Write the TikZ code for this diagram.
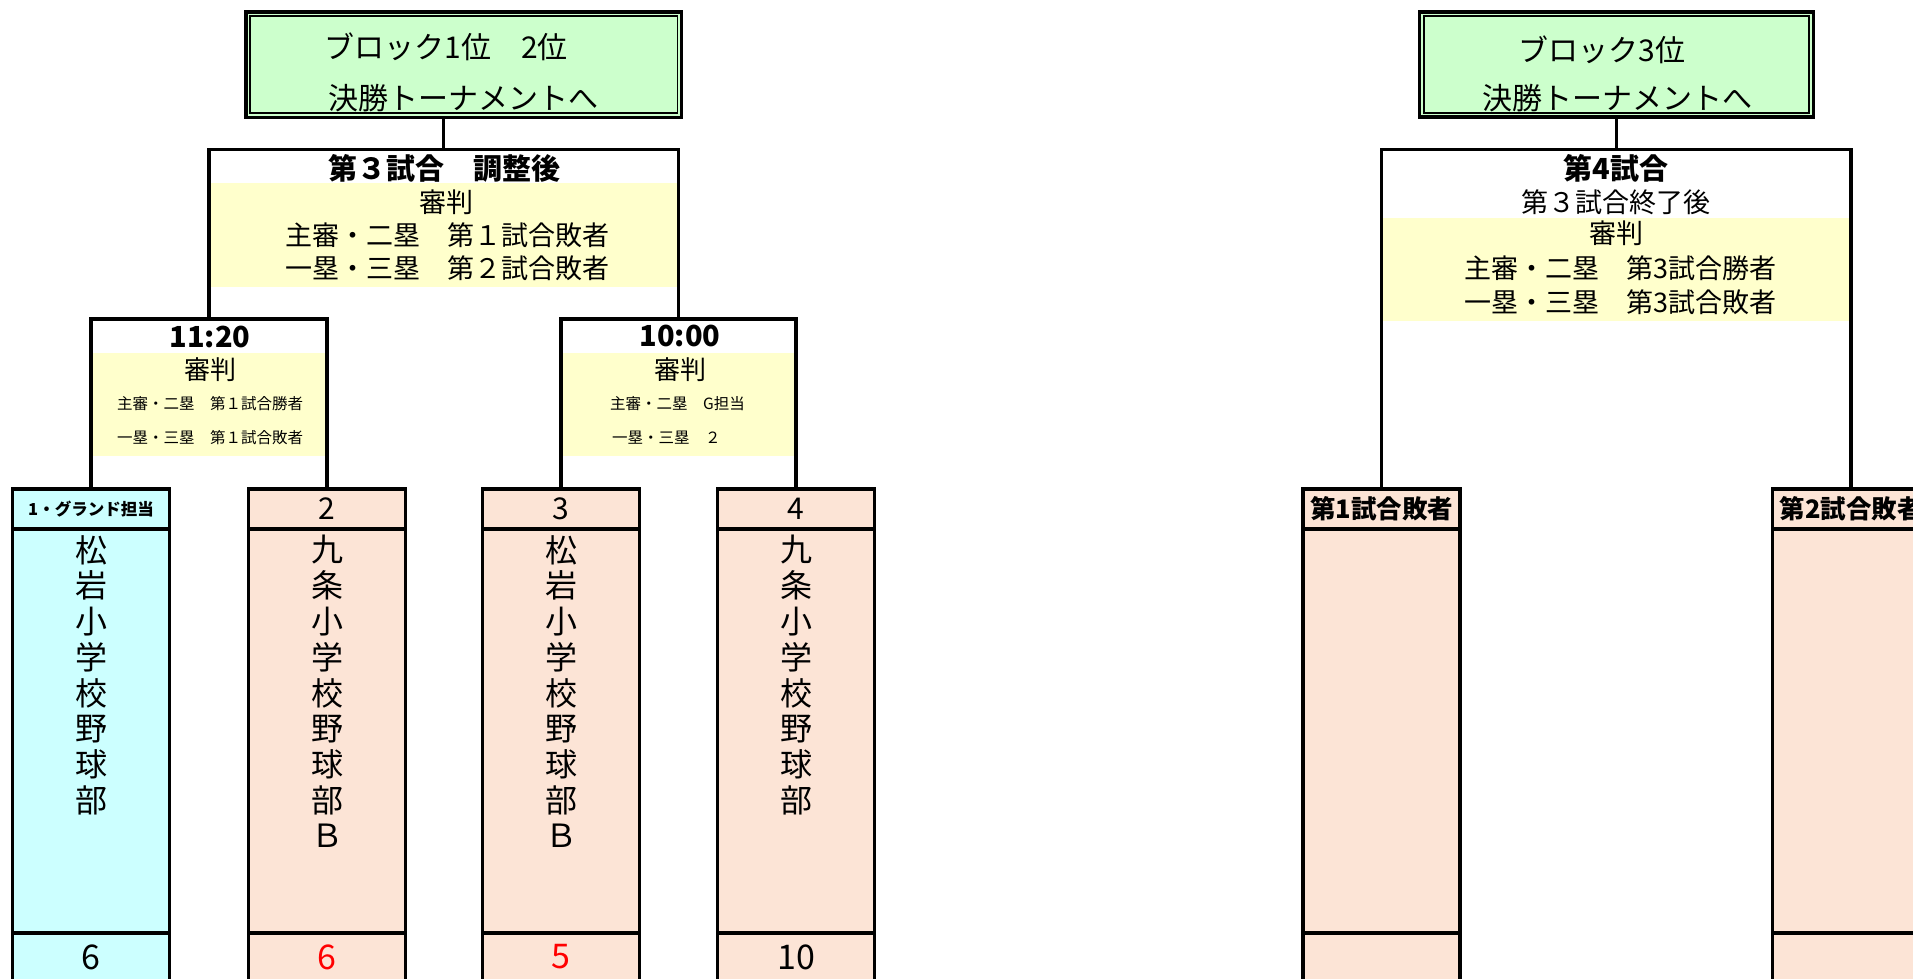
\documentclass[tikz,border=0pt]{standalone}
\usepackage{fontspec}
\setmainfont{Noto Sans CJK JP}
\definecolor{gfill}{HTML}{CCFFCC}
\definecolor{yfill}{HTML}{FFFFCC}
\definecolor{cfill}{HTML}{CCFFFF}
\definecolor{pfill}{HTML}{FCE4D6}
\newcommand\fsz[1]{\fontsize{#1pt}{#1pt}\selectfont}
\newcommand\teambox[5]{%
  \node[teamhead, fill=#3, font={#4}] (#1) at (#2,509) {#5};
  \node[teambody, fill=#3, anchor=north] (#1b) at (#1.south) {};
  \node[teamfoot, fill=#3, anchor=north] (#1f) at (#1b.south) {};
}
\begin{document}
\begin{tikzpicture}[x=1pt,y=-1pt,
  teamhead/.style={draw, line width=3.1pt, minimum width=157pt, minimum height=40pt, inner sep=0pt, outer sep=0pt},
  teambody/.style={draw, line width=3.1pt, minimum width=157pt, minimum height=404pt, inner sep=0pt, outer sep=0pt},
  teamfoot/.style={draw, line width=3.1pt, minimum width=157pt, minimum height=80pt, inner sep=0pt, outer sep=0pt},
  score/.style={inner sep=0pt, font=\fsz{34}},
  vchar/.style={inner sep=0pt, font=\fsz{32}},
  band/.style={fill=yfill, inner sep=0pt, outer sep=0pt},
  frame/.style={inner sep=0pt, outer sep=0pt},
  bracket/.style={draw, line width=3.1pt, line join=miter},
  gbox/.style={draw, fill=gfill, line width=3.4pt, inner sep=0pt, outer sep=0pt},
  gtxt/.style={inner sep=0pt, font=\fsz{30}},
  title/.style={inner sep=0pt, font=\bfseries\fsz{29}},
  bigref/.style={inner sep=0pt, font=\fsz{27}},
  timetxt/.style={inner sep=0pt, font=\bfseries\fsz{29}},
  smallhead/.style={inner sep=0pt, font=\fsz{26}},
  smallref/.style={inner sep=0pt, font=\fsz{15.5}}
]
\useasboundingbox (0,0) rectangle (1913,978);
\clip (0,0) rectangle (1913,978);
\fill[white] (0,0) rectangle (1913,978);

% team boxes
\teambox{t1}{91}{cfill}{\bfseries\fsz{16.5}}{1・グランド担当}
\teambox{t2}{327}{pfill}{\fsz{30}}{2}
\teambox{t3}{561}{pfill}{\fsz{30}}{3}
\teambox{t4}{796}{pfill}{\fsz{30}}{4}
\teambox{t5}{1381.5}{pfill}{\bfseries\fsz{25.5}}{第1試合敗者}
\teambox{t6}{1851}{pfill}{\bfseries\fsz{25.5}}{第2試合敗者}

\node[score] (t1s) at (91,957) {6};
\node[score, text=red] (t2s) at (327,957) {6};
\node[score, text=red] (t3s) at (561,957) {5};
\node[score] (t4s) at (796,957) {10};

\foreach \c [count=\i from 0] in {松,岩,小,学,校,野,球,部}
  \node[vchar] (t1c\i) at (91,550+35.75*\i) {\c};
\foreach \c [count=\i from 0] in {九,条,小,学,校,野,球,部,Ｂ}
  \node[vchar] (t2c\i) at (327,550+35.75*\i) {\c};
\foreach \c [count=\i from 0] in {松,岩,小,学,校,野,球,部,Ｂ}
  \node[vchar] (t3c\i) at (561,550+35.75*\i) {\c};
\foreach \c [count=\i from 0] in {九,条,小,学,校,野,球,部}
  \node[vchar] (t4c\i) at (796,550+35.75*\i) {\c};

% match frames (invisible) and referee bands
\node[frame, minimum width=236pt, minimum height=170pt, anchor=north] (m1) at (209,319) {};
\node[frame, minimum width=235pt, minimum height=170pt, anchor=north] (m2) at (678.5,319) {};
\node[frame, minimum width=469.5pt, minimum height=169.5pt, anchor=north] (m3) at (443.75,149.5) {};
\node[frame, minimum width=469.5pt, minimum height=339.5pt, anchor=north] (m4) at (1616.25,149.5) {};

\node[band, minimum width=469.5pt, minimum height=104pt, anchor=north] (b3) at (443.75,183) {};
\node[band, minimum width=469.5pt, minimum height=103pt, anchor=north] (b4) at (1616.25,218) {};
\node[band, minimum width=236pt, minimum height=103pt, anchor=north] (b1) at (209,353) {};
\node[band, minimum width=235pt, minimum height=103pt, anchor=north] (b2) at (678.5,353) {};

% green boxes
\node[gbox, minimum width=435.7pt, minimum height=105.3pt] (g1) at (463.85,64.65) {};
\draw[line width=1.7pt] ([shift={(4.2,4.2)}]g1.north west) rectangle ([shift={(-4.2,-4.2)}]g1.south east);
\node[gbox, minimum width=393.9pt, minimum height=105pt] (g2) at (1616.55,64.5) {};
\draw[line width=1.7pt] ([shift={(4.2,4.2)}]g2.north west) rectangle ([shift={(-4.2,-4.2)}]g2.south east);

% brackets
\draw[bracket] (t1.north) |- (m1.north) -| (t2.north);
\draw[bracket] (t3.north) |- (m2.north) -| (t4.north);
\draw[bracket] (m1.north) |- (m3.north) -| (m2.north);
\draw[bracket] (t5.north) |- (m4.north) -| (t6.north);
\draw[bracket] (m3.north) -- (m3.north |- g1.south);
\draw[bracket] (m4.north) -- (m4.north |- g2.south);

% texts: green boxes
\node[gtxt] (g1a) at (446,47) {ブロック1位　2位};
\node[gtxt] (g1b) at (463.5,98) {決勝トーナメントへ};
\node[gtxt] (g2a) at (1602,50) {ブロック3位};
\node[gtxt] (g2b) at (1617,98) {決勝トーナメントへ};

% match 3
\node[title] (m3t) at (444,168) {第３試合　調整後};
\node[bigref] (m3r) at (446,202) {審判};
\node[bigref] (m3r1) at (447,235) {主審・二塁　第１試合敗者};
\node[bigref] (m3r2) at (447,268) {一塁・三塁　第２試合敗者};

% match 4
\node[title] (m4t) at (1616,168) {第4試合};
\node[bigref] (m4s) at (1616,202) {第３試合終了後};
\node[bigref] (m4r) at (1616,233) {審判};
\node[bigref] (m4r1) at (1620,268) {主審・二塁　第3試合勝者};
\node[bigref] (m4r2) at (1620,302) {一塁・三塁　第3試合敗者};

% match 1 (11:20)
\node[timetxt] (m1t) at (210,337) {11:20};
\node[smallhead] (m1r) at (210,370) {審判};
\node[smallref] (m1r1) at (210,404) {主審・二塁　第１試合勝者};
\node[smallref] (m1r2) at (210,438) {一塁・三塁　第１試合敗者};

% match 2 (10:00)
\node[timetxt] (m2t) at (680,336) {10:00};
\node[smallhead] (m2r) at (680,370) {審判};
\node[smallref, anchor=west] (m2r1) at (610,404) {主審・二塁　G担当};
\node[smallref, anchor=west] (m2r2) at (612,438) {一塁・三塁　２};
\end{tikzpicture}
\end{document}
